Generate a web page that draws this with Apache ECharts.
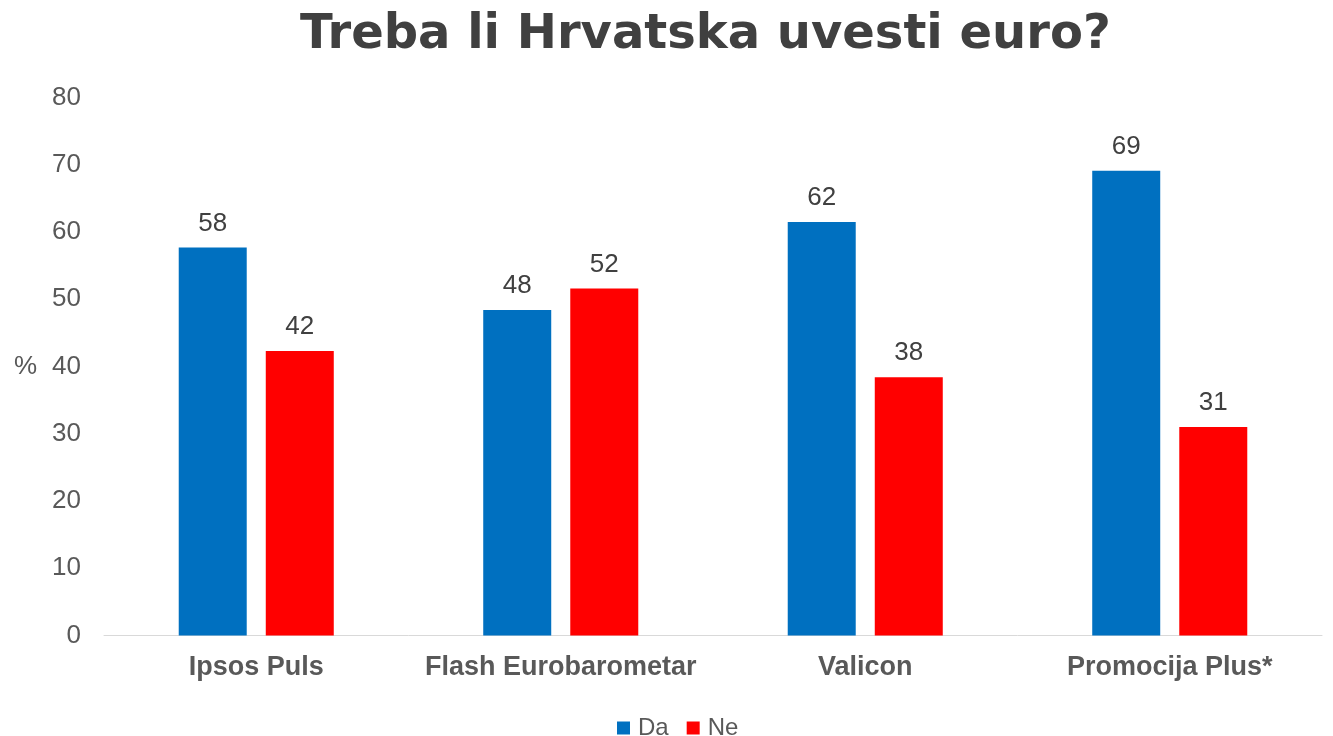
<!DOCTYPE html>
<html>
<head>
<meta charset="utf-8">
<script src="https://cdn.jsdelivr.net/npm/echarts@6/dist/echarts.min.js"></script>
<style>
html,body{margin:0;padding:0;background:#fff;}
#chart{width:1333px;height:736px;}
</style>
</head>
<body>
<div id="chart"></div>
<script>
const categories = ['Ipsos Puls', 'Flash Eurobarometar', 'Valicon', 'Promocija Plus*'];
const daValues = [57.7, 48.4, 61.5, 69.1];
const neValues = [42.3, 51.6, 38.4, 31.0];
const seriesNames = ['Da', 'Ne'];
const titleText = 'Treba li Hrvatska uvesti euro?';
const yTicks = { min: 0, max: 80, interval: 10 };

const chart = echarts.init(document.getElementById('chart'), null, { renderer: 'canvas' });
const labelOpt = {
  show: true,
  position: 'top',
  distance: 11,
  color: '#404040',
  fontFamily: 'Liberation Sans',
  fontSize: 26,
  formatter: p => Math.round(p.value)
};
chart.setOption({
  animation: false,
  backgroundColor: '#ffffff',
  title: {
    text: titleText,
    left: 300,
    top: 12,
    padding: 0,
    textStyle: {
      fontFamily: 'DejaVu Sans',
      fontWeight: 'bold',
      fontSize: 48,
      color: '#404040'
    }
  },
  legend: {
    data: seriesNames,
    left: 612,
    top: 711,
    itemWidth: 13,
    itemHeight: 13,
    itemGap: 18,
    icon: 'rect',
    textStyle: { fontFamily: 'Liberation Sans', fontSize: 24, color: '#595959', padding: [0, 0, 0, 3] }
  },
  grid: { left: 104, right: 11, top: 97.5, bottom: 100.5, containLabel: false },
  xAxis: {
    type: 'category',
    data: categories,
    axisLine: { show: true, lineStyle: { color: '#d9d9d9', width: 1 } },
    axisTick: { show: false },
    axisLabel: {
      interval: 0,
      margin: 19,
      color: '#595959',
      fontFamily: 'Liberation Sans',
      fontWeight: 'bold',
      fontSize: 27
    }
  },
  yAxis: {
    type: 'value',
    min: yTicks.min,
    max: yTicks.max,
    interval: yTicks.interval,
    name: '%',
    nameLocation: 'middle',
    nameRotate: 0,
    nameGap: 67,
    nameTextStyle: { color: '#595959', fontFamily: 'Liberation Sans', fontSize: 26 },
    splitLine: { show: false },
    axisLine: { show: false },
    axisTick: { show: false },
    axisLabel: { margin: 23, color: '#595959', fontFamily: 'Liberation Sans', fontSize: 26 }
  },
  series: [
    {
      name: seriesNames[0], type: 'bar', data: daValues,
      barWidth: 68, barGap: '28%',
      itemStyle: { color: '#0070C0' },
      label: labelOpt
    },
    {
      name: seriesNames[1], type: 'bar', data: neValues,
      barWidth: 68,
      itemStyle: { color: '#FF0000' },
      label: labelOpt
    }
  ]
});
</script>
</body>
</html>
